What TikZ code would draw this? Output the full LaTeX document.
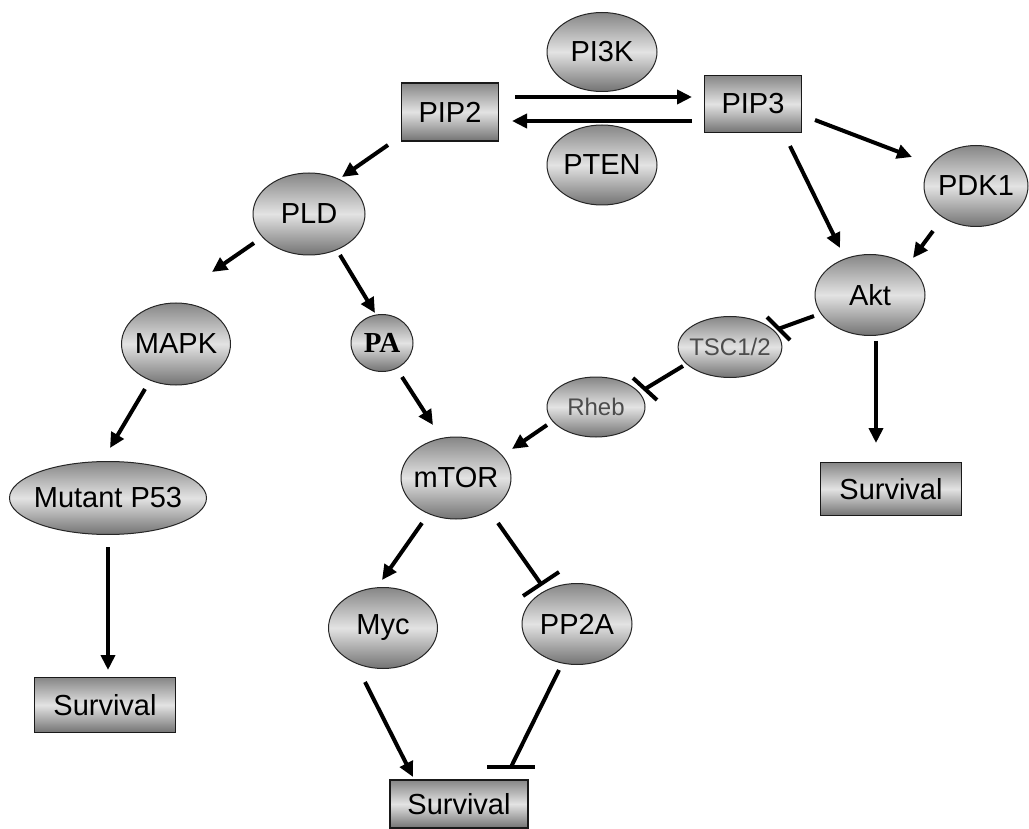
\documentclass[tikz,border=0pt]{standalone}
\usepackage{fontspec}
\setmainfont{Liberation Sans}
\newfontfamily\paserif{Liberation Serif}
\usetikzlibrary{arrows.meta,shapes.geometric,calc}
\begin{document}
\begin{tikzpicture}[x=1pt,y=-1pt,
  ell/.style={ellipse, draw=black!85, line width=1pt, top color=gray!95, bottom color=gray!90!black, middle color=gray!22, inner sep=-4pt, font=\fontsize{29}{30}\selectfont},
  box/.style={rectangle, draw=black!90, line width=1.2pt, top color=gray!95, bottom color=gray!90!black, middle color=gray!22, inner sep=0pt, font=\fontsize{29}{30}\selectfont},
  act/.style={line width=4pt, -{Triangle[length=15pt,width=14pt]}},
  inh/.style={line width=4pt},
  small/.style={font=\fontsize{24}{25}\selectfont, text=black!70},
]
\useasboundingbox (0,0) rectangle (1029,829);
% nodes
\node[ell, minimum width=110pt, minimum height=79pt] (pi3k) at (602,52) {PI3K};
\node[box, minimum width=97pt, minimum height=58pt] (pip2) at (450,112) {PIP2};
\node[box, minimum width=97pt, minimum height=57pt] (pip3) at (753,104) {PIP3};
\node[ell, minimum width=110pt, minimum height=80pt] (pten) at (602,165) {PTEN};
\node[ell, minimum width=104pt, minimum height=81pt] (pdk1) at (976,186) {PDK1};
\node[ell, minimum width=112pt, minimum height=82pt] (pld) at (309,214) {PLD};
\node[ell, minimum width=110pt, minimum height=81pt] (akt) at (870,295) {Akt};
\node[ell, small, minimum width=97pt, minimum height=61pt] (tsc) at (730,347) {TSC1/2};
\node[ell, minimum width=109pt, minimum height=82pt] (mapk) at (176,344) {MAPK};
\node[ell, minimum width=62pt, minimum height=57pt, font=\paserif\bfseries\fontsize{29}{30}\selectfont] (pa) at (382,343) {PA};
\node[ell, small, minimum width=98pt, minimum height=60pt] (rheb) at (596,407) {Rheb};
\node[ell, minimum width=110pt, minimum height=82pt] (mtor) at (456,478) {mTOR};
\node[ell, minimum width=197pt, minimum height=73pt, inner xsep=-7pt] (mutant) at (108,498) {Mutant P53};
\node[box, minimum width=141pt, minimum height=55pt] (surv1) at (105,705) {Survival};
\node[box, minimum width=141pt, minimum height=53pt] (surv2) at (891,489) {Survival};
\node[ell, minimum width=109pt, minimum height=81pt] (myc) at (383,628) {Myc};
\node[ell, minimum width=110pt, minimum height=81pt] (pp2a) at (577,624) {PP2A};
\node[box, minimum width=138pt, minimum height=48pt] (surv3) at (459,804) {Survival};
% activating connectors
\draw[act] ($(pip2)+(65,-15)$) -- ($(pip3)+(-61,-7)$);
\draw[act] ($(pip3)+(-61,17)$) -- ($(pip2)+(62,9)$);
\draw[act] ($(pip2)+(-62,33)$) -- ($(pld)+(33,-37)$);
\draw[act] ($(pld)+(-55,29)$) -- ($(mapk)+(36,-72)$);
\draw[act] ($(pld)+(31,41)$) -- ($(pa)+(-7,-30)$);
\draw[act] ($(pa)+(20,34)$) -- ($(mtor)+(-23,-53)$);
\draw[act] ($(pip3)+(37,42)$) -- ($(akt)+(-30,-47)$);
\draw[act] ($(pip3)+(62,16)$) -- ($(pdk1)+(-64,-29)$);
\draw[act] ($(pdk1)+(-43,45)$) -- ($(akt)+(43,-37)$);
\draw[act] ($(rheb)+(-49,18)$) -- ($(mtor)+(56,-29)$);
\draw[act] ($(akt)+(6,46)$) -- ($(surv2)+(-15,-46)$);
\draw[act] ($(mapk)+(-31,45)$) -- ($(mutant)+(2,-50)$);
\draw[act] ($(mutant)+(0,49)$) -- ($(surv1)+(3,-35)$);
\draw[act] ($(mtor)+(-34,45)$) -- ($(myc)+(-1,-48)$);
\draw[act] ($(myc)+(-18,54)$) -- ($(surv3)+(-46,-27)$);
% inhibiting connectors
\draw[inh] ($(akt)+(-56,21)$) -- ($(tsc)+(48,-18)$);
\draw[inh] ($(tsc)+(37,-30)$) -- ($(tsc)+(60,-7)$);
\draw[inh] ($(tsc)+(-47,19)$) -- ($(rheb)+(49,-18)$);
\draw[inh] ($(rheb)+(37,-29)$) -- ($(rheb)+(61,-7)$);
\draw[inh] ($(mtor)+(42,45)$) -- ($(pp2a)+(-36,-40)$);
\draw[inh] ($(pp2a)+(-54,-28)$) -- ($(pp2a)+(-18,-52)$);
\draw[inh] ($(pp2a)+(-18,46)$) -- ($(surv3)+(52,-37)$);
\draw[inh] ($(surv3)+(28,-37)$) -- ($(surv3)+(76,-37)$);
\end{tikzpicture}
\end{document}
